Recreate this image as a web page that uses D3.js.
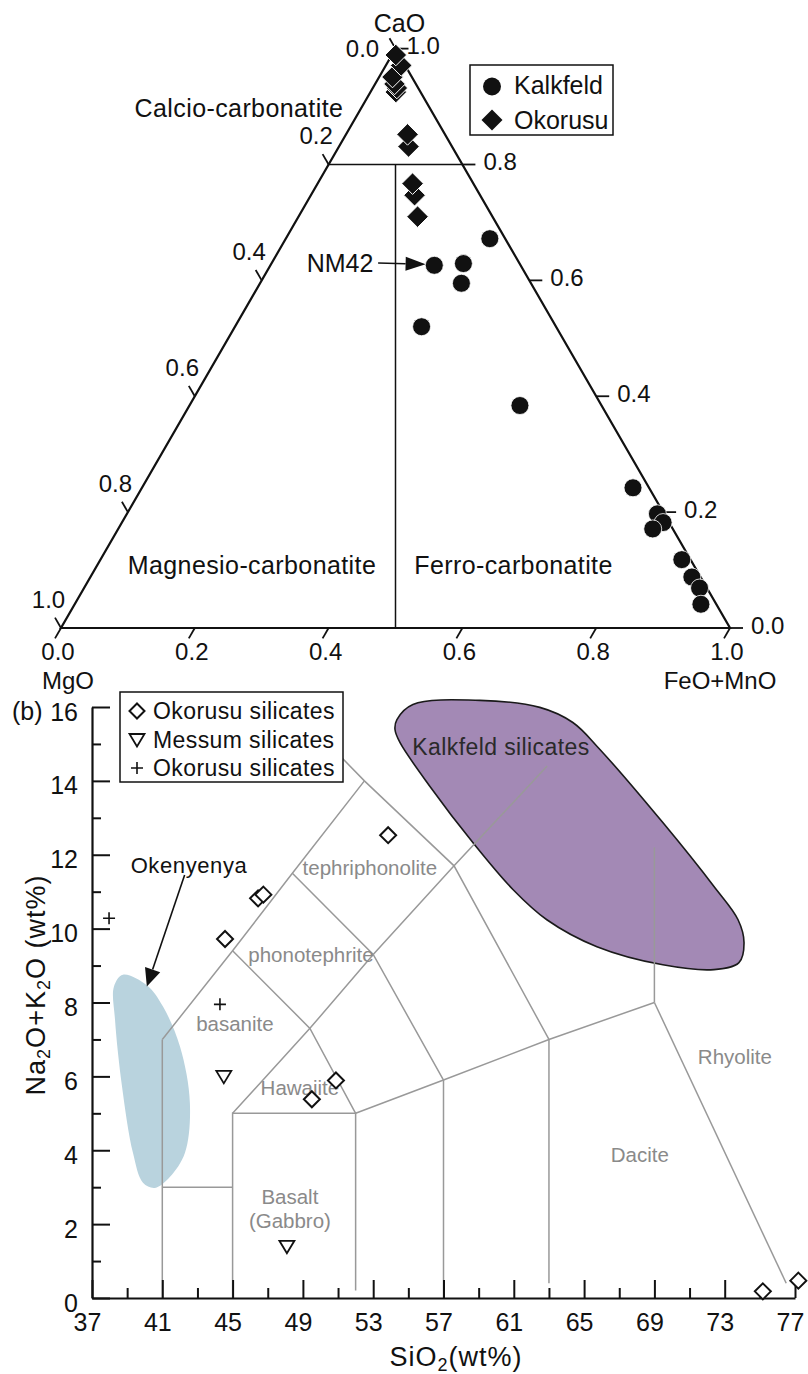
<!DOCTYPE html>
<html><head><meta charset="utf-8">
<script src="https://cdn.jsdelivr.net/npm/d3@7"></script>
<style>
html,body{margin:0;padding:0;background:#fff;}
svg{display:block;}
text{font-family:"Liberation Sans",Arial,Helvetica,sans-serif;fill:#111;}
</style></head><body>
<svg id="chart" width="808" height="1374"></svg>
<script>
// ================= DATA =================
// (a) ternary: [CaO, MgO, FeO+MnO] (fractions)
const kalkfeld = [
  [0.672,0.023,0.305],[0.626,0.129,0.245],[0.629,0.084,0.287],[0.595,0.104,0.301],
  [0.520,0.201,0.279],[0.384,0.122,0.494],[0.242,0.024,0.734],[0.197,0.010,0.793],
  [0.182,0.009,0.809],[0.171,0.030,0.799],[0.118,0.013,0.869],[0.088,0.013,0.899],
  [0.069,0.011,0.920],[0.041,0.023,0.936]
];
const okorusu = [
  [0.989,0.005,0.006],[0.971,0.006,0.023],[0.951,0.029,0.020],[0.939,0.032,0.029],
  [0.932,0.032,0.036],[0.925,0.037,0.038],[0.852,0.056,0.092],[0.831,0.065,0.104],
  [0.767,0.091,0.142],[0.747,0.098,0.155],[0.710,0.112,0.178]
];
const ternaryTicks = [0, 0.2, 0.4, 0.6, 0.8, 1.0];
const ternaryLegend = ["Kalkfeld", "Okorusu"];

// (b) TAS: [SiO2, Na2O+K2O] (wt%)
const okorusuSilicates = [[53.85,12.53],[46.45,10.82],[46.75,10.92],[44.57,9.72],[50.88,5.89],[49.51,5.38],[75.17,0.18],[77.19,0.47]];
const messumSilicates = [[44.5,6.0],[48.09,1.40]];
const okorusuPlus = [[37.97,10.28],[44.28,7.95]];
const kalkfeldField = [[54.35,15.66],[55.26,16.07],[59.07,16.18],[62.48,15.99],[64.36,15.58],[65.90,14.85],[69.48,12.87],[72.39,11.14],[73.76,10.24],[74.10,9.62],[73.81,9.08],[72.39,8.89],[69.48,9.02],[65.73,9.51],[62.88,10.24],[60.95,11.06],[58.67,12.33],[56.23,13.85],[54.52,15.04],[54.24,15.39]];
const okenyenyaField = [[38.76,8.75],[40.13,8.46],[41.04,7.89],[42.01,6.80],[42.57,5.28],[42.29,3.93],[41.44,3.28],[40.58,2.98],[39.90,3.12],[39.33,3.93],[38.71,5.72],[38.31,7.53],[38.25,8.43]];
const tasBoundaries = [
  [[41,0],[41,7]],
  [[41,7],[45,9.4],[48.4,11.5],[52.5,14]],
  [[48.4,16],[52.5,14],[57.6,11.7],[63,7]],
  [[41,3],[45,3]],
  [[45,0],[45,5],[52,5],[52,0.2]],
  [[52,5],[57,5.9],[63,7],[69,8]],
  [[57,0],[57,5.9]],
  [[63,0.4],[63,7]],
  [[69,8],[76.5,0.4]],
  [[69,8],[69,12.2]],
  [[45,5],[49.4,7.3],[53,9.3],[57.6,11.7],[62.9,14.4]],
  [[45,9.4],[49.4,7.3],[52,5]],
  [[48.4,11.5],[53,9.3],[57,5.9]]
];
const fieldNames = [
  ["tephriphonolite",52.81,11.65],["phonotephrite",49.46,9.30],["basanite",45.13,7.43],
  ["Hawaiite",48.83,5.69],["Basalt",48.26,2.76],["(Gabbro)",48.26,2.11],
  ["Dacite",68.17,3.88],["Rhyolite",73.58,6.53]
];
const xMajor = [37,41,45,49,53,57,61,65,69,73,77];
const xMinor = [39,43,47,51,55,59,63,67,71,75];
const yMajor = [0,2,4,6,8,10,12,14,16];
const yMinor = [1,3,5,7,9,11,13,15];
const tasLegend = ["Okorusu silicates","Messum silicates","Okorusu silicates"];

// ================= DRAW =================
const svg = d3.select("#chart");
const FONT = '"Liberation Sans",Arial,Helvetica,sans-serif';

function arrow(g, x1, y1, x2, y2, len, hw, sw) {
  const a = Math.atan2(y2 - y1, x2 - x1);
  const bx = x2 - len * Math.cos(a), by = y2 - len * Math.sin(a);
  g.append("line").attr("x1", x1).attr("y1", y1).attr("x2", bx).attr("y2", by)
    .attr("stroke", "#111").attr("stroke-width", sw);
  g.append("path").attr("d", `M${x2},${y2}L${bx + hw*Math.sin(a)},${by - hw*Math.cos(a)}L${bx - hw*Math.sin(a)},${by + hw*Math.cos(a)}Z`)
    .attr("fill", "#111");
}
const diamondPath = r => `M0,${-r}L${r},0L0,${r}L${-r},0Z`;

// ---------- (a) Ternary ----------
const SQ = Math.sqrt(3) / 2;
const tx = d3.scaleLinear().domain([0, 1]).range([61, 730]);
const ty = d3.scaleLinear().domain([0, 1]).range([628, 628 - 669 * SQ]);
const P = (ca, fe) => [tx(fe + ca / 2), ty(ca)];
const fmt = d3.format(".1f");
const ga = svg.append("g");

// inner field lines
ga.append("path").attr("d", d3.line()([P(0.8, 0), P(0.8, 0.2)])).attr("stroke", "#111").attr("stroke-width", 1.5).attr("fill", "none");
ga.append("path").attr("d", d3.line()([P(0.8, 0.1), P(0, 0.5)])).attr("stroke", "#111").attr("stroke-width", 1.5).attr("fill", "none");
// triangle
ga.append("path").attr("d", d3.line()([P(0, 0), P(0, 1), P(1, 0)]) + "Z")
  .attr("fill", "none").attr("stroke", "#111").attr("stroke-width", 2.2).attr("stroke-linejoin", "miter");

// ticks
const tl = 12;
ternaryTicks.forEach(v => {
  // bottom (FeO+MnO)
  let [px, py] = P(0, v);
  ga.append("line").attr("x1", px).attr("y1", py).attr("x2", px - 0.5 * tl).attr("y2", py + SQ * tl).attr("stroke", "#111").attr("stroke-width", 1.8);
  ga.append("text").attr("x", px - 3).attr("y", py + 23).attr("text-anchor", "middle").attr("dominant-baseline", "central").attr("font-size", 24).text(fmt(v));
  // right (CaO)
  [px, py] = P(v, 1 - v);
  ga.append("line").attr("x1", px).attr("y1", py).attr("x2", px + tl + 1).attr("y2", py).attr("stroke", "#111").attr("stroke-width", 1.8);
  ga.append("text").attr("x", px + (v === 1 ? 11 : 21)).attr("y", py - 3).attr("dominant-baseline", "central").attr("font-size", 24).text(fmt(v));
  // left (MgO)
  [px, py] = P(1 - v, 0);
  ga.append("line").attr("x1", px).attr("y1", py).attr("x2", px - 0.5 * tl).attr("y2", py - SQ * tl).attr("stroke", "#111").attr("stroke-width", 1.8);
  const off = v === 0 ? [-33, 0] : [-12.5, -29];
  ga.append("text").attr("x", px + off[0]).attr("y", py + off[1]).attr("text-anchor", "middle").attr("dominant-baseline", "central").attr("font-size", 24).text(fmt(v));
});

// apex labels
const [cx, cy] = P(1, 0);
ga.append("text").attr("x", cx + 4).attr("y", cy - 26).attr("text-anchor", "middle").attr("dominant-baseline", "central").attr("font-size", 25).text("CaO");
const [mx, my] = P(0, 0);
ga.append("text").attr("x", mx + 7).attr("y", my + 52).attr("text-anchor", "middle").attr("dominant-baseline", "central").attr("font-size", 24).text("MgO");
const [fx, fy] = P(0, 1);
ga.append("text").attr("x", fx - 10).attr("y", fy + 52).attr("text-anchor", "middle").attr("dominant-baseline", "central").attr("font-size", 24).text("FeO+MnO");

// field labels (u = horizontal fraction, ca)
const ternaryFieldLabels = [["Calcio-carbonatite", 0.266, 0.8975], ["Magnesio-carbonatite", 0.2855, 0.1087], ["Ferro-carbonatite", 0.6764, 0.1087]];
ternaryFieldLabels.forEach(([t, u, ca]) => {
  ga.append("text").attr("x", tx(u)).attr("y", ty(ca)).attr("text-anchor", "middle").attr("dominant-baseline", "central")
    .attr("font-size", 25).attr("letter-spacing", 0.4).text(t);
});

// data markers
const okSorted = okorusu.slice().sort((a, b) => a[0] - b[0]);
ga.selectAll(".okd").data(okSorted).join("path").attr("class", "okd")
  .attr("transform", d => { const [x, y] = P(d[0], d[2]); return `translate(${x},${y})`; })
  .attr("d", diamondPath(10.8)).attr("fill", "#111").attr("stroke", "#fff").attr("stroke-width", 1);
ga.selectAll(".kf").data(kalkfeld).join("circle").attr("class", "kf")
  .attr("cx", d => P(d[0], d[2])[0]).attr("cy", d => P(d[0], d[2])[1])
  .attr("r", 9).attr("fill", "#111").attr("stroke", "#fff").attr("stroke-width", 0.8);

// NM42 annotation
ga.append("text").attr("x", tx(0.417)).attr("y", ty(0.63)).attr("text-anchor", "middle").attr("dominant-baseline", "central").attr("font-size", 25).text("NM42");
arrow(ga, tx(0.474), ty(0.63), tx(0.545), ty(0.628), 20, 7, 1.5);

// ternary legend
const lg = ga.append("g");
lg.append("rect").attr("x", 470).attr("y", 65).attr("width", 143).attr("height", 70).attr("fill", "#fff").attr("stroke", "#111").attr("stroke-width", 1.5);
lg.append("circle").attr("cx", 492).attr("cy", 86.5).attr("r", 9).attr("fill", "#111");
lg.append("path").attr("transform", "translate(492,120)").attr("d", diamondPath(10.5)).attr("fill", "#111");
ternaryLegend.forEach((t, i) => {
  lg.append("text").attr("x", 514).attr("y", 85 + i * 35).attr("dominant-baseline", "central").attr("font-size", 25).text(t);
});

// ---------- (b) TAS ----------
const x = d3.scaleLinear().domain([37, 77]).range([92, 795]);
const y = d3.scaleLinear().domain([0, 16]).range([1298, 707]);
const gb = svg.append("g");
const line = d3.line().x(d => x(d[0])).y(d => y(d[1]));
const smooth = d3.line().x(d => x(d[0])).y(d => y(d[1])).curve(d3.curveCatmullRomClosed.alpha(0.5));

gb.append("path").attr("d", smooth(okenyenyaField)).attr("fill", "#b9d3de").attr("stroke", "none");
gb.append("path").attr("d", smooth(kalkfeldField)).attr("fill", "#a389b5").attr("stroke", "#1a1a1a").attr("stroke-width", 1.6);

gb.selectAll(".bd").data(tasBoundaries).join("path").attr("class", "bd")
  .attr("d", line).attr("fill", "none").attr("stroke", "#999").attr("stroke-width", 1.5);

fieldNames.forEach(([t, sx, sy]) => {
  gb.append("text").attr("x", x(sx)).attr("y", y(sy)).attr("text-anchor", "middle").attr("dominant-baseline", "central")
    .attr("font-size", 20.5).style("fill", "#8a8a8a").text(t);
});
gb.append("text").attr("x", x(60.27)).attr("y", y(14.91)).attr("text-anchor", "middle").attr("dominant-baseline", "central")
  .attr("font-size", 23).attr("letter-spacing", 0.4).style("fill", "#2a2a2a").text("Kalkfeld silicates");

// Okenyenya annotation
gb.append("text").attr("x", x(42.52)).attr("y", y(11.71)).attr("text-anchor", "middle").attr("dominant-baseline", "central")
  .attr("font-size", 22).attr("letter-spacing", 0.6).text("Okenyenya");
arrow(gb, x(42.27), y(11.45), x(40.12), y(8.43), 18, 8, 1.6);

// axes
const axX = gb.append("g").attr("transform", "translate(0,1298)")
  .call(d3.axisBottom(x).tickValues(xMajor).tickSize(-18).tickSizeOuter(0).tickPadding(0).tickFormat(d3.format("d")));
const axXm = gb.append("g").attr("transform", "translate(0,1298)")
  .call(d3.axisBottom(x).tickValues(xMinor).tickSize(-10).tickSizeOuter(0).tickFormat(""));
const axY = gb.append("g").attr("transform", "translate(92,0)")
  .call(d3.axisLeft(y).tickValues(yMajor).tickSize(-18).tickSizeOuter(0).tickPadding(14).tickFormat(d3.format("d")));
const axYm = gb.append("g").attr("transform", "translate(92,0)")
  .call(d3.axisLeft(y).tickValues(yMinor).tickSize(-9).tickSizeOuter(0).tickFormat(""));
[axX, axXm, axY, axYm].forEach(a => {
  a.selectAll("path.domain").attr("stroke", "#111").attr("stroke-width", 2.2);
  a.selectAll(".tick line").attr("stroke", "#111").attr("stroke-width", 2);
  a.attr("font-family", FONT);
});
axXm.selectAll("path.domain").remove();
axYm.selectAll("path.domain").remove();
axX.selectAll(".tick text").attr("font-size", 25).attr("y", 24).attr("dx", -5).attr("dy", 0).attr("dominant-baseline", "central").style("fill", "#111");
axY.selectAll(".tick text").attr("font-size", 25).attr("x", -14).attr("dy", 4).attr("dominant-baseline", "central").style("fill", "#111");

// axis titles
gb.append("text").attr("x", 12).attr("y", 711).attr("dominant-baseline", "central").attr("font-size", 25).text("(b)");
const yt = gb.append("text").attr("transform", "translate(45,985) rotate(-90)").attr("text-anchor", "middle")
  .attr("font-size", 27).attr("letter-spacing", 1);
yt.append("tspan").text("Na");
yt.append("tspan").attr("font-size", 18).attr("dy", 5).text("2");
yt.append("tspan").attr("dy", -5).text("O+K");
yt.append("tspan").attr("font-size", 18).attr("dy", 5).text("2");
yt.append("tspan").attr("dy", -5).text("O (wt%)");
const xt = gb.append("text").attr("x", 456).attr("y", 1366).attr("text-anchor", "middle").attr("font-size", 27).attr("letter-spacing", 1);
xt.append("tspan").text("SiO");
xt.append("tspan").attr("font-size", 18).attr("dy", 5).text("2");
xt.append("tspan").attr("dy", -5).text("(wt%)");

// data markers
gb.selectAll(".osd").data(okorusuSilicates).join("path").attr("class", "osd")
  .attr("transform", d => `translate(${x(d[0])},${y(d[1])})`).attr("d", diamondPath(8))
  .attr("fill", "#fff").attr("stroke", "#111").attr("stroke-width", 2);
const triPath = "M-7.5,-5.5L7.5,-5.5L0,7Z";
gb.selectAll(".mst").data(messumSilicates).join("path").attr("class", "mst")
  .attr("transform", d => `translate(${x(d[0])},${y(d[1])})`).attr("d", triPath)
  .attr("fill", "#fff").attr("stroke", "#111").attr("stroke-width", 1.8);
const plusPath = "M-6,0H6M0,-6V6";
gb.selectAll(".opl").data(okorusuPlus).join("path").attr("class", "opl")
  .attr("transform", d => `translate(${x(d[0])},${y(d[1])})`).attr("d", plusPath)
  .attr("fill", "none").attr("stroke", "#111").attr("stroke-width", 1.6);

// legend (b)
const lb = gb.append("g");
lb.append("rect").attr("x", 120).attr("y", 692).attr("width", 223).attr("height", 90).attr("fill", "#fff").attr("stroke", "#111").attr("stroke-width", 1.5);
const legPaths = [[diamondPath(7.5), "#fff", 2], [triPath, "#fff", 1.8], [plusPath, "none", 1.6]];
tasLegend.forEach((t, i) => {
  const yy = 711 + i * 28.5;
  lb.append("path").attr("transform", `translate(137,${yy})`).attr("d", legPaths[i][0])
    .attr("fill", legPaths[i][1]).attr("stroke", "#111").attr("stroke-width", legPaths[i][2]);
  lb.append("text").attr("x", 153).attr("y", yy).attr("dominant-baseline", "central").attr("font-size", 23).attr("letter-spacing", 0.4).text(t);
});
</script>
</body></html>
